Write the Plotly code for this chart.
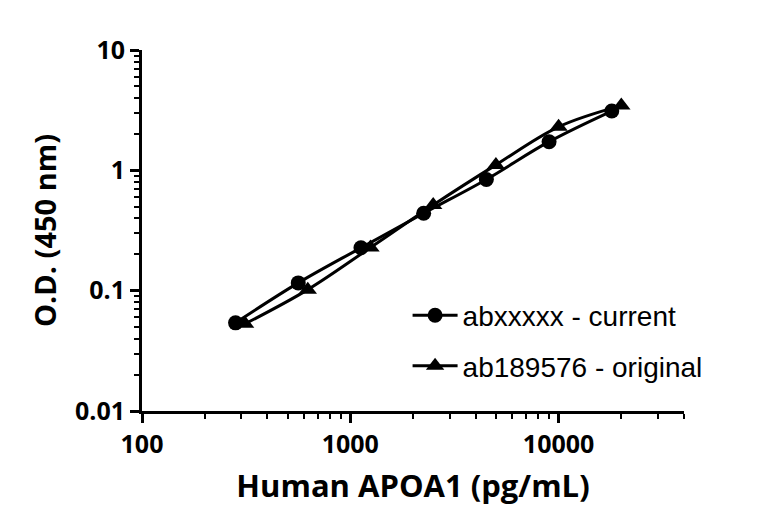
import plotly.graph_objects as go

# standard curve data
conc_current = [281.25, 562.5, 1125, 2250, 4500, 9000, 18000]
od_current = [0.054, 0.116, 0.227, 0.44, 0.84, 1.73, 3.11]

conc_original = [312.5, 625, 1250, 2500, 5000, 10000, 20000]
od_original = [0.053, 0.102, 0.228, 0.515, 1.11, 2.30, 3.45]

names = ["abxxxxx - current", "ab189576 - original"]

x_ticks = [100, 1000, 10000]
x_labels = ["100", "1000", "10000"]
y_ticks = [0.01, 0.1, 1, 10]
y_labels = ["0.01", "0.1", "1", "10"]

fig = go.Figure()

fig.add_trace(go.Scatter(x=conc_current, y=od_current, name=names[0],
                         mode="lines+markers", line=dict(color="black", width=3, shape="spline"),
                         marker=dict(symbol="circle", size=15, color="black"),
                         legendgroup="a"))
fig.add_trace(go.Scatter(x=conc_original, y=od_original, name=names[1],
                         mode="lines+markers", line=dict(color="black", width=3, shape="spline"),
                         marker=dict(symbol="triangle-up", size=16, color="black"),
                         legendgroup="b"))

tickfont = dict(family="Open Sans", size=25, color="black", weight="bold")
titlefont = dict(family="Open Sans", size=31, color="black", weight="bold")

fig.update_xaxes(type="log", range=[2, 4.602],
                 tickvals=x_ticks, ticktext=x_labels,
                 showline=True, linecolor="black", linewidth=3,
                 ticks="outside", ticklen=9, tickwidth=3, tickcolor="black",
                 minor=dict(ticks="outside", ticklen=5, tickwidth=2, tickcolor="black", dtick="D1", showgrid=False),
                 showgrid=False, zeroline=False, tickfont=tickfont,
                 title=dict(text="Human APOA1 (pg/mL)", font=titlefont, standoff=17))
fig.update_yaxes(type="log", range=[-2, 1],
                 tickvals=y_ticks, ticktext=y_labels,
                 showline=True, linecolor="black", linewidth=3,
                 ticks="outside", ticklen=9, tickwidth=3, tickcolor="black",
                 minor=dict(ticks="outside", ticklen=5, tickwidth=2, tickcolor="black", dtick="D1", showgrid=False),
                 showgrid=False, zeroline=False, tickfont=tickfont,
                 title=dict(text="O.D. (450 nm)", font=dict(titlefont, size=29), standoff=10))

fig.update_layout(
    width=768, height=529,
    margin=dict(l=134, r=92, t=42, b=126),
    paper_bgcolor="white", plot_bgcolor="white",
    showlegend=True,
    legend=dict(x=0.49, y=0.195, xanchor="left", yanchor="middle",
                font=dict(family="Liberation Sans", size=28, color="black"),
                bgcolor="rgba(0,0,0,0)", tracegroupgap=11, itemwidth=45),
)

fig.write_html("out.html")
